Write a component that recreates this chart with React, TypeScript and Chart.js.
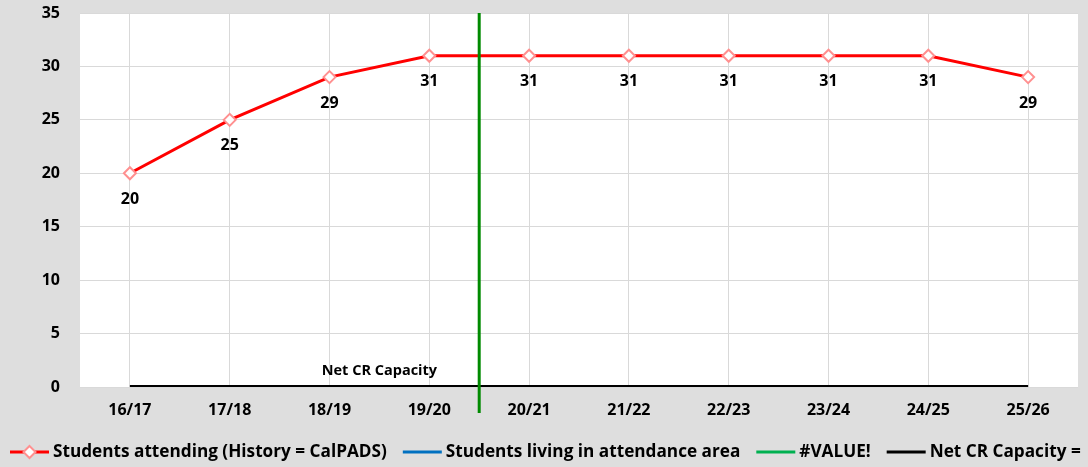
import React, { useEffect, useRef } from "react";
import { Chart, registerables } from "chart.js";

Chart.register(...registerables);

const categories = ["16/17", "17/18", "18/19", "19/20", "20/21", "21/22", "22/23", "23/24", "24/25", "25/26"];
const studentsAttending = [20, 25, 29, 31, 31, 31, 31, 31, 31, 29];
const studentsLiving: (number | null)[] = [null, null, null, null, null, null, null, null, null, null];
const netCapacity = [0, 0, 0, 0, 0, 0, 0, 0, 0, 0];
const yMin = 0;
const yMax = 35;
const yStep = 5;
const dividerAfterIndex = 3;
const capacityLabel = "Net CR Capacity";
const legendLabels = [
  "Students attending (History = CalPADS)",
  "Students living in attendance area",
  "#VALUE!",
  "Net CR Capacity =",
];

const FONT = "'Open Sans', Lato, sans-serif";
const RED = "#ff0000";
const BLUE = "#0070c0";
const GREEN = "#00b050";
const DIVIDER_GREEN = "#008a00";
const BLACK = "#000000";

const decorPlugin = {
  id: "decor",
  beforeDraw(chart: any) {
    const { ctx, chartArea } = chart;
    ctx.save();
    ctx.fillStyle = "#dedede";
    ctx.fillRect(0, 0, chart.width, chart.height);
    ctx.fillStyle = "#ffffff";
    ctx.fillRect(chartArea.left, chartArea.top, chartArea.right - chartArea.left, chartArea.bottom - chartArea.top);
    ctx.restore();
  },
  afterDatasetsDraw(chart: any) {
    const { ctx, scales, chartArea } = chart;
    ctx.save();
    // divider line
    const dx = (scales.x.getPixelForValue(dividerAfterIndex) + scales.x.getPixelForValue(dividerAfterIndex + 1)) / 2;
    ctx.strokeStyle = DIVIDER_GREEN;
    ctx.lineWidth = 3;
    ctx.beginPath();
    ctx.moveTo(dx, chartArea.top);
    ctx.lineTo(dx, chartArea.bottom + 26);
    ctx.stroke();

    ctx.fillStyle = BLACK;
    ctx.font = `bold 16px ${FONT}`;
    ctx.textAlign = "center";
    ctx.textBaseline = "middle";
    const meta = chart.getDatasetMeta(0);
    meta.data.forEach((pt: any, i: number) => {
      ctx.fillText(String(studentsAttending[i]), pt.x, pt.y + 26);
    });
    // capacity label
    const cx = (scales.x.getPixelForValue(2) + scales.x.getPixelForValue(3)) / 2;
    const cy = scales.y.getPixelForValue(netCapacity[2]) - 16;
    ctx.font = `bold 14.5px ${FONT}`;
    ctx.fillText(capacityLabel, cx, cy);

    // legend
    const ly = 452;
    let x = 10;
    const colors = [RED, BLUE, GREEN, BLACK];
    ctx.font = `bold 17.2px ${FONT}`;
    ctx.textAlign = "left";
    legendLabels.forEach((label, i) => {
      const lineW = 39;
      ctx.strokeStyle = colors[i];
      ctx.lineWidth = 3;
      ctx.beginPath();
      ctx.moveTo(x, ly);
      ctx.lineTo(x + lineW, ly);
      ctx.stroke();
      if (i === 0) {
        const mx = x + lineW / 2;
        ctx.fillStyle = "#ffffff";
        ctx.strokeStyle = "#ff9090";
        ctx.lineWidth = 2;
        ctx.beginPath();
        ctx.moveTo(mx, ly - 6);
        ctx.lineTo(mx + 6, ly);
        ctx.lineTo(mx, ly + 6);
        ctx.lineTo(mx - 6, ly);
        ctx.closePath();
        ctx.fill();
        ctx.stroke();
      }
      x += lineW + 4;
      ctx.fillStyle = BLACK;
      ctx.fillText(label, x, ly);
      x += ctx.measureText(label).width + 16;
    });
    ctx.restore();
  },
};

export default function App() {
  const canvasRef = useRef<HTMLCanvasElement | null>(null);

  useEffect(() => {
    if (!canvasRef.current) return;
    const chart = new Chart(canvasRef.current, {
      type: "line",
      data: {
        labels: categories,
        datasets: [
          {
            label: legendLabels[0],
            data: studentsAttending,
            borderColor: RED,
            borderWidth: 3,
            pointStyle: "rectRot",
            pointRadius: 6,
            pointBackgroundColor: "#ffffff",
            pointBorderColor: "#ff9090",
            pointBorderWidth: 2,
            tension: 0,
            order: 0,
          },
          {
            label: legendLabels[1],
            data: studentsLiving,
            borderColor: BLUE,
            borderWidth: 3,
            pointRadius: 0,
            order: 1,
          },
          {
            label: legendLabels[3],
            data: netCapacity,
            borderColor: BLACK,
            borderWidth: 4,
            pointRadius: 0,
            order: 2,
          },
        ],
      },
      options: {
        responsive: false,
        animation: false,
        devicePixelRatio: 1,
        layout: { padding: { top: 13, right: 10, left: 0, bottom: 45 } },
        plugins: {
          legend: { display: false },
          tooltip: { enabled: false },
        },
        scales: {
          x: {
            offset: true,
            grid: { offset: false, color: "#d9d9d9", drawTicks: false },
            border: { display: false },
            ticks: { color: BLACK, font: { family: FONT, size: 16, weight: "bold" }, padding: 14 },
            afterFit(scale: any) {
              scale.height = 35;
              scale.paddingLeft = 0;
              scale.paddingRight = 0;
            },
          },
          y: {
            min: yMin,
            max: yMax,
            grid: { color: "#d9d9d9", drawTicks: false },
            border: { display: false },
            ticks: { stepSize: yStep, color: BLACK, font: { family: FONT, size: 16, weight: "bold" }, padding: 20 },
            afterFit(scale: any) {
              scale.width = 80;
              scale.paddingTop = 0;
              scale.paddingBottom = 0;
            },
          },
        },
      },
      plugins: [decorPlugin],
    } as any);
    return () => chart.destroy();
  }, []);

  return (
    <div style={{ position: "fixed", left: 0, top: 0, width: 1088, height: 467, background: "#dedede" }}>
      <canvas ref={canvasRef} width={1088} height={467} />
    </div>
  );
}
